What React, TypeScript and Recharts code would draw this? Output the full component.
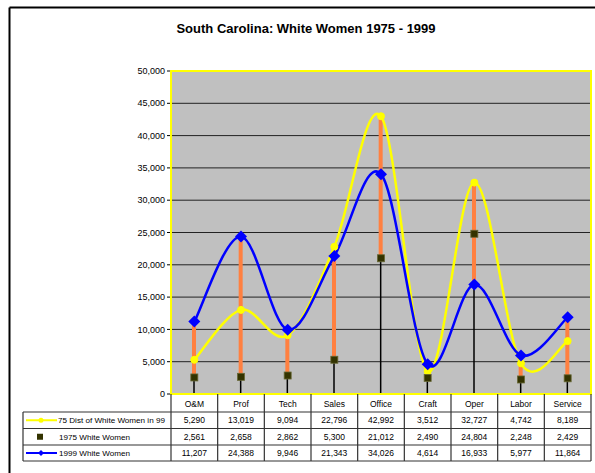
import React from 'react';
import { ComposedChart, Bar, Line, YAxis, XAxis, CartesianGrid } from 'recharts';

const categories = ['O&M', 'Prof', 'Tech', 'Sales', 'Office', 'Craft', 'Oper', 'Labor', 'Service'];
const dist75in99 = [5290, 13019, 9094, 22796, 42992, 3512, 32727, 4742, 8189];
const women1975 = [2561, 2658, 2862, 5300, 21012, 2490, 24804, 2248, 2429];
const women1999 = [11207, 24388, 9946, 21343, 34026, 4614, 16933, 5977, 11864];
const yTicks = [0, 5000, 10000, 15000, 20000, 25000, 30000, 35000, 40000, 45000, 50000];
const seriesNames = ['75 Dist of White Women in 99', '1975 White Women', '1999 White Women'];

const W = 595;
const H = 473;
const PL = 171;
const PT = 71;
const PR = 591;
const PB = 394;
const FONT = 'Liberation Sans, Arial, sans-serif';

const data = categories.map((c, i) => {
  const vals = [dist75in99[i], women1975[i], women1999[i]];
  return {
    cat: c,
    dist: dist75in99[i],
    w75: women1975[i],
    w99: women1999[i],
    hi: Math.max(...vals),
    lo: Math.min(...vals),
  };
});

// excel style smoothed line (bezier, control = neighbour slope / 6)
const excelCurve = (context: any) => {
  let pts: number[][] = [];
  return {
    areaStart() {},
    areaEnd() {},
    lineStart() {
      pts = [];
    },
    point(x: number, y: number) {
      pts.push([+x, +y]);
    },
    lineEnd() {
      if (!pts.length) return;
      context.moveTo(pts[0][0], pts[0][1]);
      for (let i = 0; i < pts.length - 1; i++) {
        const p0 = pts[i - 1] || pts[i];
        const p1 = pts[i];
        const p2 = pts[i + 1];
        const p3 = pts[i + 2] || p2;
        context.bezierCurveTo(
          p1[0] + (p2[0] - p0[0]) / 6,
          p1[1] + (p2[1] - p0[1]) / 6,
          p2[0] - (p3[0] - p1[0]) / 6,
          p2[1] - (p3[1] - p1[1]) / 6,
          p2[0],
          p2[1]
        );
      }
    },
  };
};

const HiLoShape = (props: any) => {
  const { x, y, width, height, payload } = props;
  if (!height) return null;
  const base = y + height;
  const ppu = height / payload.hi;
  const yLo = base - payload.lo * ppu;
  const cx = x + width / 2;
  return (
    <g>
      <line x1={cx} x2={cx} y1={base} y2={yLo} stroke="#000" strokeWidth={1.5} />
      <rect x={cx - 2} y={y} width={4} height={yLo - y} fill="#FF8040" />
    </g>
  );
};

const SquareDot = (props: any) => {
  const { cx, cy, index } = props;
  return <rect key={`sq-${index}`} x={cx - 3.5} y={cy - 3.5} width={7} height={7} fill="#333300" stroke="#666633" strokeWidth={0.8} />;
};

const DiamondDot = (props: any) => {
  const { cx, cy, index } = props;
  return (
    <polygon
      key={`dm-${index}`}
      points={`${cx},${cy - 6} ${cx + 6},${cy} ${cx},${cy + 6} ${cx - 6},${cy}`}
      fill="#0000FF"
    />
  );
};

const fmt = (v: number) => v.toLocaleString('en-US');

const colW = (PR - PL) / categories.length;
const rowY = [412, 428.5, 445, 461];

function Table() {
  const legendRows = [
    (y: number) => (
      <g>
        <line x1={26} x2={57} y1={y} y2={y} stroke="#FFFF00" strokeWidth={2} />
        <circle cx={41} cy={y} r={2.5} fill="#FFFF00" />
      </g>
    ),
    (y: number) => <rect x={37} y={y - 3} width={6} height={6} fill="#333300" />,
    (y: number) => (
      <g>
        <line x1={26} x2={57} y1={y} y2={y} stroke="#0000FF" strokeWidth={2} />
        <polygon points={`41,${y - 3} 44,${y} 41,${y + 3} 38,${y}`} fill="#0000FF" />
      </g>
    ),
  ];
  const rows = [dist75in99, women1975, women1999];
  return (
    <g fontFamily={FONT} fontSize={8.5} fill="#000">
      {categories.map((c, i) => (
        <text key={c} x={PL + colW * (i + 0.5)} y={407} textAnchor="middle">
          {c}
        </text>
      ))}
      {rows.map((r, ri) => {
        const cy = (rowY[ri] + rowY[ri + 1]) / 2;
        return (
          <g key={ri}>
            {legendRows[ri](cy)}
            <text x={ri === 0 ? 58 : 59} y={cy + 3} fontSize={8.1}>
              {seriesNames[ri]}
            </text>
            {r.map((v, i) => (
              <text key={i} x={PL + colW * (i + 0.5)} y={cy + 3} textAnchor="middle">
                {fmt(v)}
              </text>
            ))}
          </g>
        );
      })}
      {rowY.map((y) => (
        <line key={y} x1={23} x2={PR} y1={y} y2={y} stroke="#333" strokeWidth={1.2} />
      ))}
      <line x1={23} x2={23} y1={rowY[0]} y2={rowY[3]} stroke="#333" strokeWidth={1.2} />
      {categories.map((c, i) => (
        <line key={`v${i}`} x1={PL + colW * i} x2={PL + colW * i} y1={PB} y2={rowY[3]} stroke="#333" strokeWidth={1.2} />
      ))}
      <line x1={PR} x2={PR} y1={PB} y2={rowY[3]} stroke="#333" strokeWidth={1.2} />
    </g>
  );
}

export default function App() {
  return (
    <div style={{ position: 'absolute', left: 0, top: 0, width: W, height: H, background: '#fff', overflow: 'hidden' }}>
      <svg width={W} height={H} style={{ position: 'absolute', left: 0, top: 0 }}>
        <line x1={9.5} x2={W} y1={7.5} y2={7.5} stroke="#000" strokeWidth={2} />
        <line x1={9.5} x2={9.5} y1={7.5} y2={H} stroke="#000" strokeWidth={2} />
        <text x={306} y={33} textAnchor="middle" fontFamily={FONT} fontWeight="bold" fontSize={13} fill="#000">
          South Carolina: White Women 1975 - 1999
        </text>
      </svg>
      <div style={{ position: 'absolute', left: 0, top: 0 }}>
        <ComposedChart
          width={W}
          height={H}
          data={data}
          margin={{ top: PT, right: W - PR, bottom: H - PB, left: PL - 60 }}
          barSize={4}
        >
          <CartesianGrid vertical={false} fill="#C0C0C0" stroke="#222" strokeOpacity={1} />
          <XAxis dataKey="cat" hide />
          <YAxis
            width={60}
            domain={[0, 50000]}
            ticks={yTicks}
            interval={0}
            tickFormatter={fmt}
            tickSize={4}
            tickMargin={2}
            axisLine={{ stroke: '#FFFF00', strokeWidth: 2 }}
            tickLine={{ stroke: '#000' }}
            tick={{ fontSize: 9, fill: '#000', fontFamily: FONT }}
          />
          <Bar dataKey="hi" shape={HiLoShape} isAnimationActive={false} />
          <Line
            dataKey="dist"
            type={excelCurve as any}
            stroke="#FFFF00"
            strokeWidth={2.5}
            dot={{ r: 3.5, fill: '#FFFF00', stroke: '#FFFF00', strokeWidth: 1 }}
            isAnimationActive={false}
          />
          <Line
            dataKey="w99"
            type={excelCurve as any}
            stroke="#0000FF"
            strokeWidth={2.5}
            dot={DiamondDot}
            isAnimationActive={false}
          />
          <Line dataKey="w75" stroke="none" dot={SquareDot} isAnimationActive={false} />
        </ComposedChart>
      </div>
      <svg width={W} height={H} style={{ position: 'absolute', left: 0, top: 0, pointerEvents: 'none' }}>
        <rect x={PL} y={PT} width={PR - PL} height={PB - PT} fill="none" stroke="#FFFF00" strokeWidth={2} />
        <Table />
      </svg>
    </div>
  );
}
